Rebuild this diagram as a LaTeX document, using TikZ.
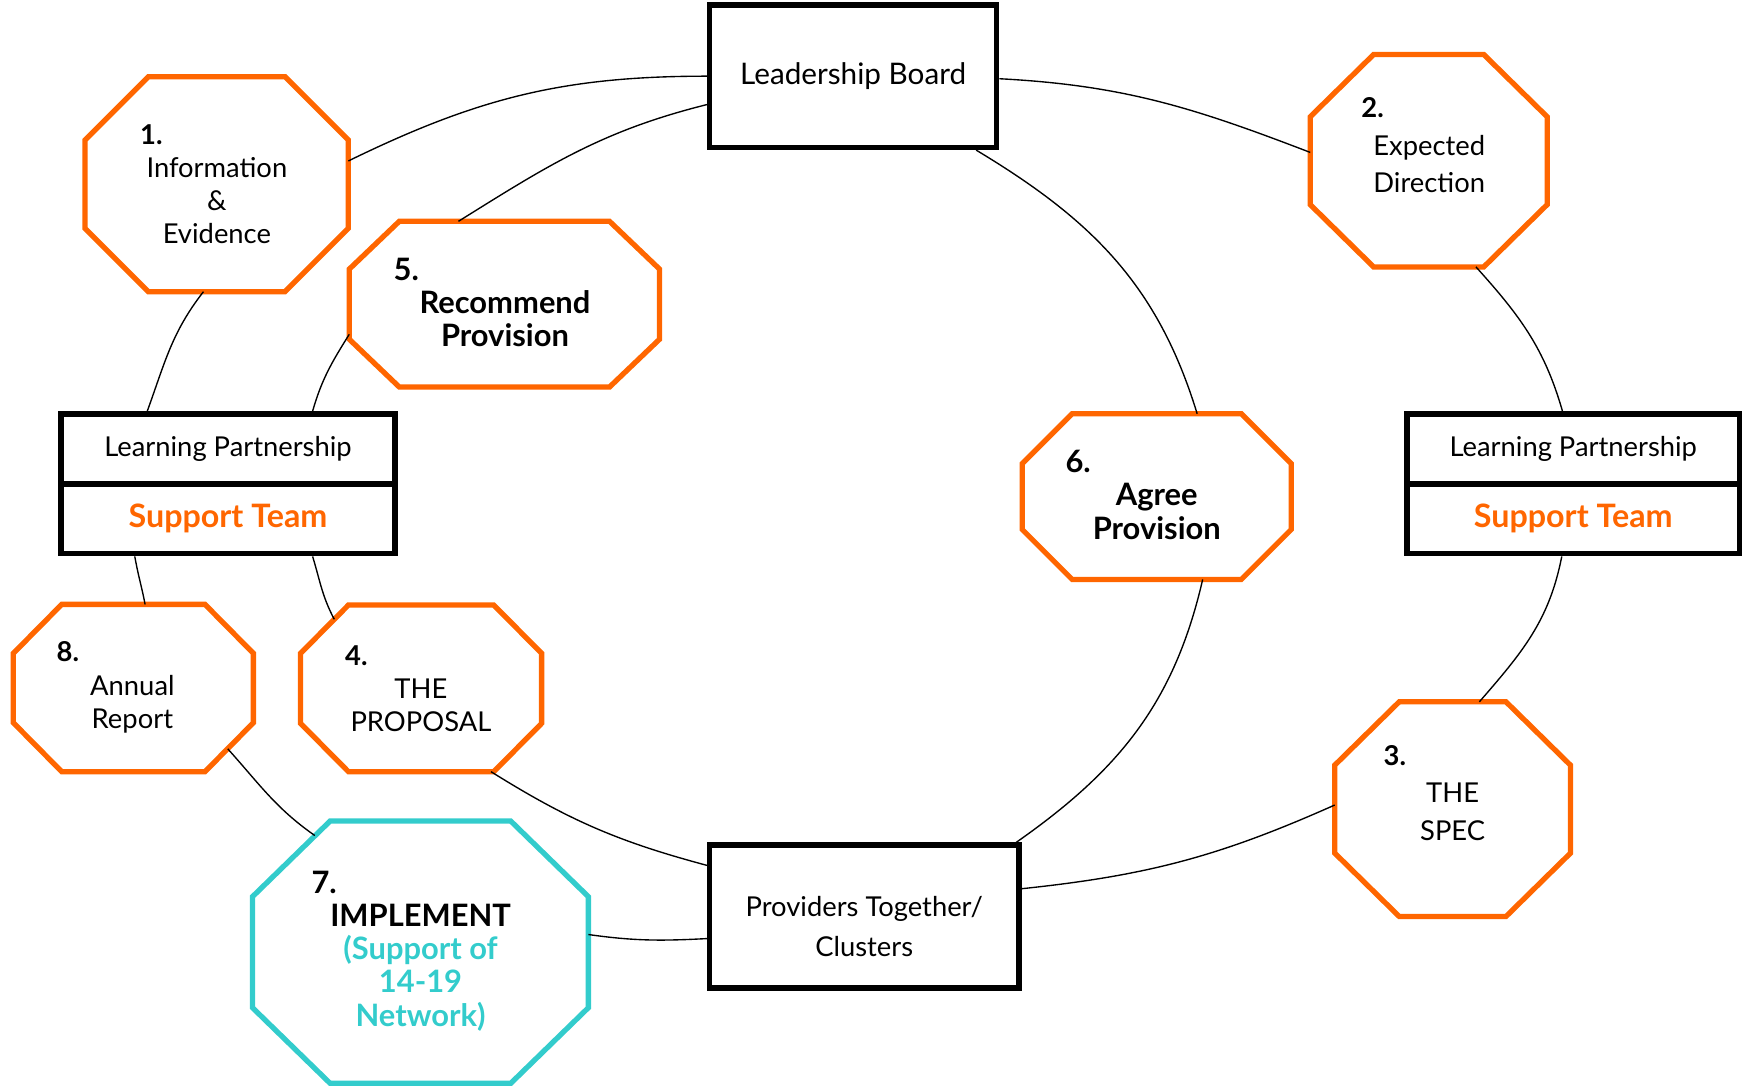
\documentclass[tikz,border=0pt]{standalone}
\usepackage{fontspec}
\setmainfont{Lato}
\usetikzlibrary{calc}

\definecolor{lporange}{HTML}{FF6600}
\definecolor{lpteal}{HTML}{33CCCC}

\tikzset{
  dims/.style 2 args={minimum width=#1*0.2mm, minimum height=#2*0.2mm},
  box/.style={draw, line width=2.8pt, inner sep=0pt, font=\fontsize{14}{17}\selectfont},
  teambox/.style={box, text=lporange, font=\fontsize{16.5}{17}\selectfont\bfseries},
  octbox/.style={rectangle, inner sep=0pt, outer sep=0pt},
  octline/.style={line width=2.7pt, line join=miter},
  txt/.style={align=center, inner sep=0pt, font=\fontsize{14}{17}\selectfont},
  boldtxt/.style={txt, font=\fontsize{15.8}{17}\selectfont\bfseries},
  link/.style={line width=0.7pt},
}

% octagon outline round a named octbox node: [colour]{node}{x cut}{y cut}
\newcommand{\octagon}[4][lporange]{%
  \draw[octline, draw=#1]
    ($(#2.north west)+(#3,0)$) -- ($(#2.north east)+(-#3,0)$) --
    ($(#2.north east)+(0,-#4)$) -- ($(#2.south east)+(0,#4)$) --
    ($(#2.south east)+(-#3,0)$) -- ($(#2.south west)+(#3,0)$) --
    ($(#2.south west)+(0,#4)$) -- ($(#2.north west)+(0,-#4)$) -- cycle;}

\begin{document}
\begin{tikzpicture}[x=0.2mm, y=0.2mm]
  \useasboundingbox (0,0) rectangle (1568,980);

  % boxes
  \node[box, dims={258}{128}, font=\fontsize{15.2}{17}\selectfont] (lb) at (767,911.5) {Leadership Board};
  \node[box, dims={300}{62.8}] (lpltop) at (205,576.4) {Learning Partnership};
  \node[teambox, dims={300}{62.8}] (lplteam) at (205,513.6) {Support Team};
  \node[box, dims={299}{62.8}] (lprtop) at (1414.5,576.4) {Learning Partnership};
  \node[teambox, dims={299}{62.8}] (lprteam) at (1414.5,513.6) {Support Team};
  \node[box, dims={278}{128.5}] (providers) at (777,156) {};

  % octagons
  \node[octbox, dims={236.8}{193.3}] (info) at (194.8,814.4) {};
  \node[octbox, dims={213}{191}] (expdir) at (1284.5,835.5) {};
  \node[octbox, dims={279}{149}] (recprov) at (453.5,706.5) {};
  \node[octbox, dims={242}{149}] (agree) at (1040,533.5) {};
  \node[octbox, dims={216.7}{149.8}] (proposal) at (378.6,361.1) {};
  \node[octbox, dims={215.8}{150.4}] (annual) at (119.9,361.4) {};
  \node[octbox, dims={212}{193}] (spec) at (1306,252.5) {};
  \node[octbox, dims={302}{235.8}] (implement) at (378,123.9) {};
  \octagon{info}{57}{57}
  \octagon{expdir}{57}{56}
  \octagon{recprov}{45}{43}
  \octagon{agree}{45}{45}
  \octagon{proposal}{43}{43.4}
  \octagon{annual}{43.5}{44}
  \octagon{spec}{58}{57}
  \octagon[lpteal]{implement}{69.8}{68}

  % texts
  \node[txt, font=\fontsize{14}{20}\selectfont] (provtxt) at (777,147) {Providers Together/\\ Clusters};
  \node[txt] (infotxt) at (195,814.4) {\makebox[27.6mm][l]{\bfseries 1.}\\ Information\\ \&\\ Evidence};
  \node[txt, font=\fontsize{14}{19}\selectfont] (expdirtxt) at (1285,849.5) {\makebox[24.4mm][l]{\bfseries 2.}\\ Expected\\ Direction};
  \node[boldtxt] (recprovtxt) at (454,708) {\makebox[40mm][l]{5.}\\ Recommend\\ Provision};
  \node[boldtxt] (agreetxt) at (1040,535) {\makebox[32.8mm][l]{6.}\\ Agree\\ Provision};
  \node[txt] (proposaltxt) at (378.4,361) {\makebox[27.2mm][l]{\bfseries 4.}\\ THE\\ PROPOSAL};
  \node[txt] (annualtxt) at (119,362) {\makebox[27.2mm][l]{\bfseries 8.}\\ Annual\\ Report};
  \node[txt, font=\fontsize{14}{19}\selectfont] (spectxt) at (1306,267) {\makebox[24.8mm][l]{\bfseries 3.}\\ THE\\ SPEC};
  \node[boldtxt] (impltxt) at (378.1,125.1) {\makebox[39.2mm][l]{7.}\\ IMPLEMENT\\
    \textcolor{lpteal}{(Support of}\\ \textcolor{lpteal}{14-19}\\ \textcolor{lpteal}{Network)}};

  % outer ring
  \draw[link] (lb.180) to[out=180, in=26] (info.10);
  \draw[link] (info.263) to[out=232, in=70] (lpltop.155);
  \draw[link] (lplteam.202) to[out=-80, in=101] (annual.82);
  \draw[link] ($(annual.south east)+(-23,20.5)$) to[out=-48, in=145] ($(implement.north west)+(56,-13)$);
  \draw[link] (implement.6) to[out=-8, in=183] (providers.188);
  \draw[link] (providers.10) to[out=6, in=204] (spec.178);
  \draw[link] (spec.76) to[out=49, in=-101] (lprteam.253);
  \draw[link] (lprtop.106) to[out=106, in=-48] (expdir.-66);
  \draw[link] (expdir.176) to[out=159, in=-3] (lb.-1);

  % inner ring
  \draw[link] (lb.191) to[out=194, in=32] (recprov.119);
  \draw[link] (recprov.191) to[out=238, in=74] (lpltop.24);
  \draw[link] (lplteam.336) to[out=-73, in=118] ($(proposal.north west)+(30.3,-12.8)$);
  \draw[link] (proposal.-50) to[out=-32, in=165] (providers.162);
  \draw[link] (providers.26) to[out=35, in=-103] (agree.-61);
  \draw[link] (agree.64) to[out=107, in=-31] (lb.-31);
\end{tikzpicture}
\end{document}
